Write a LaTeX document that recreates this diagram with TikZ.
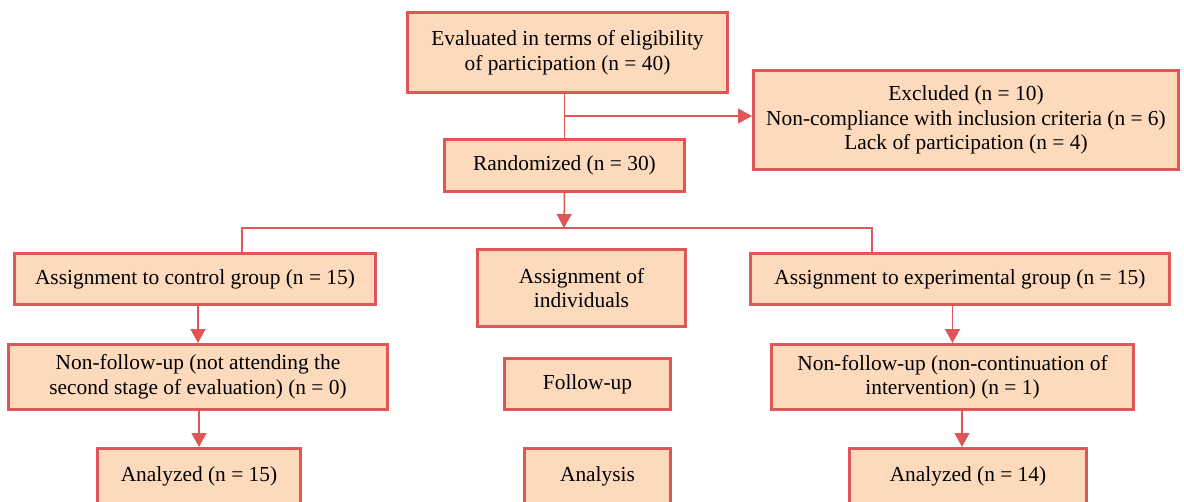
\documentclass[tikz,border=0pt]{standalone}
\usepackage{fontspec}
\setmainfont{Liberation Serif}
\usetikzlibrary{arrows.meta,calc}
\definecolor{bordred}{HTML}{DF5657}
\definecolor{peach}{HTML}{FDDABB}
\tikzset{
  box/.style={draw=bordred, fill=peach, line width=3pt, align=center, inner sep=0pt,
    font=\fontsize{21.4}{24.5}\selectfont, text=black},
  conn/.style={draw=bordred, line width=1.5pt},
  arr/.style={conn, -{Triangle[length=14pt,width=15pt]}}
}
\begin{document}
\begin{tikzpicture}[x=1pt,y=-1pt]
\useasboundingbox (0,0) rectangle (1184,501);
\node[box, minimum width=320, minimum height=80] (E) at (567.5,52.5) {Evaluated in terms of eligibility\\of participation (n = 40)};
\node[box, minimum width=240, minimum height=52] (R) at (564.5,165.5) {\raisebox{-2pt}{Randomized (n = 30)}};
\node[box, minimum width=425, minimum height=99] (X) at (966,120) {Excluded (n = 10)\\Non-compliance with inclusion criteria (n = 6)\\Lack of participation (n = 4)};
\node[box, minimum width=361, minimum height=51] (C1) at (195,279) {Assignment to control group (n = 15)};
\node[box, minimum width=208, minimum height=77] (M1) at (581.5,288) {Assignment of\\individuals};
\node[box, minimum width=419, minimum height=51] (E1) at (960,279) {Assignment to experimental group (n = 15)};
\node[box, minimum width=379, minimum height=65] (C2) at (198,377) {Non-follow-up (not attending the\\second stage of evaluation) (n = 0)};
\node[box, minimum width=166, minimum height=51] (M2) at (587.5,384) {Follow-up};
\node[box, minimum width=362, minimum height=65] (E2) at (952.5,377) {Non-follow-up (non-continuation of\\intervention) (n = 1)};
\node[box, minimum width=203, minimum height=56] (C3) at (199,476.5) {Analyzed (n = 15)};
\node[box, minimum width=146, minimum height=56] (M3) at (597.5,476.5) {Analysis};
\node[box, minimum width=237, minimum height=56] (E3) at (968,476.5) {Analyzed (n = 14)};
\coordinate (j1) at (564,116);
\coordinate (sp) at (564,228);
\coordinate (cl) at (242,228);
\coordinate (cr) at (872,228);
\coordinate (e3in) at (962,447);
\draw[conn] (R.north) -- (R.north |- E.south);
\draw[arr] (j1) -- (j1 -| X.west);
\draw[arr] (R.south) -- (sp);
\draw[conn] (cl |- C1.north) -- (cl) -- (cr) -- (cr |- E1.north);
\draw[arr] (C2.north |- C1.south) -- (C2.north);
\draw[arr] (C3.north |- C2.south) -- (C3.north);
\draw[arr] (E2.north |- E1.south) -- (E2.north);
\draw[arr] (e3in |- E2.south) -- (e3in);
\end{tikzpicture}
\end{document}
